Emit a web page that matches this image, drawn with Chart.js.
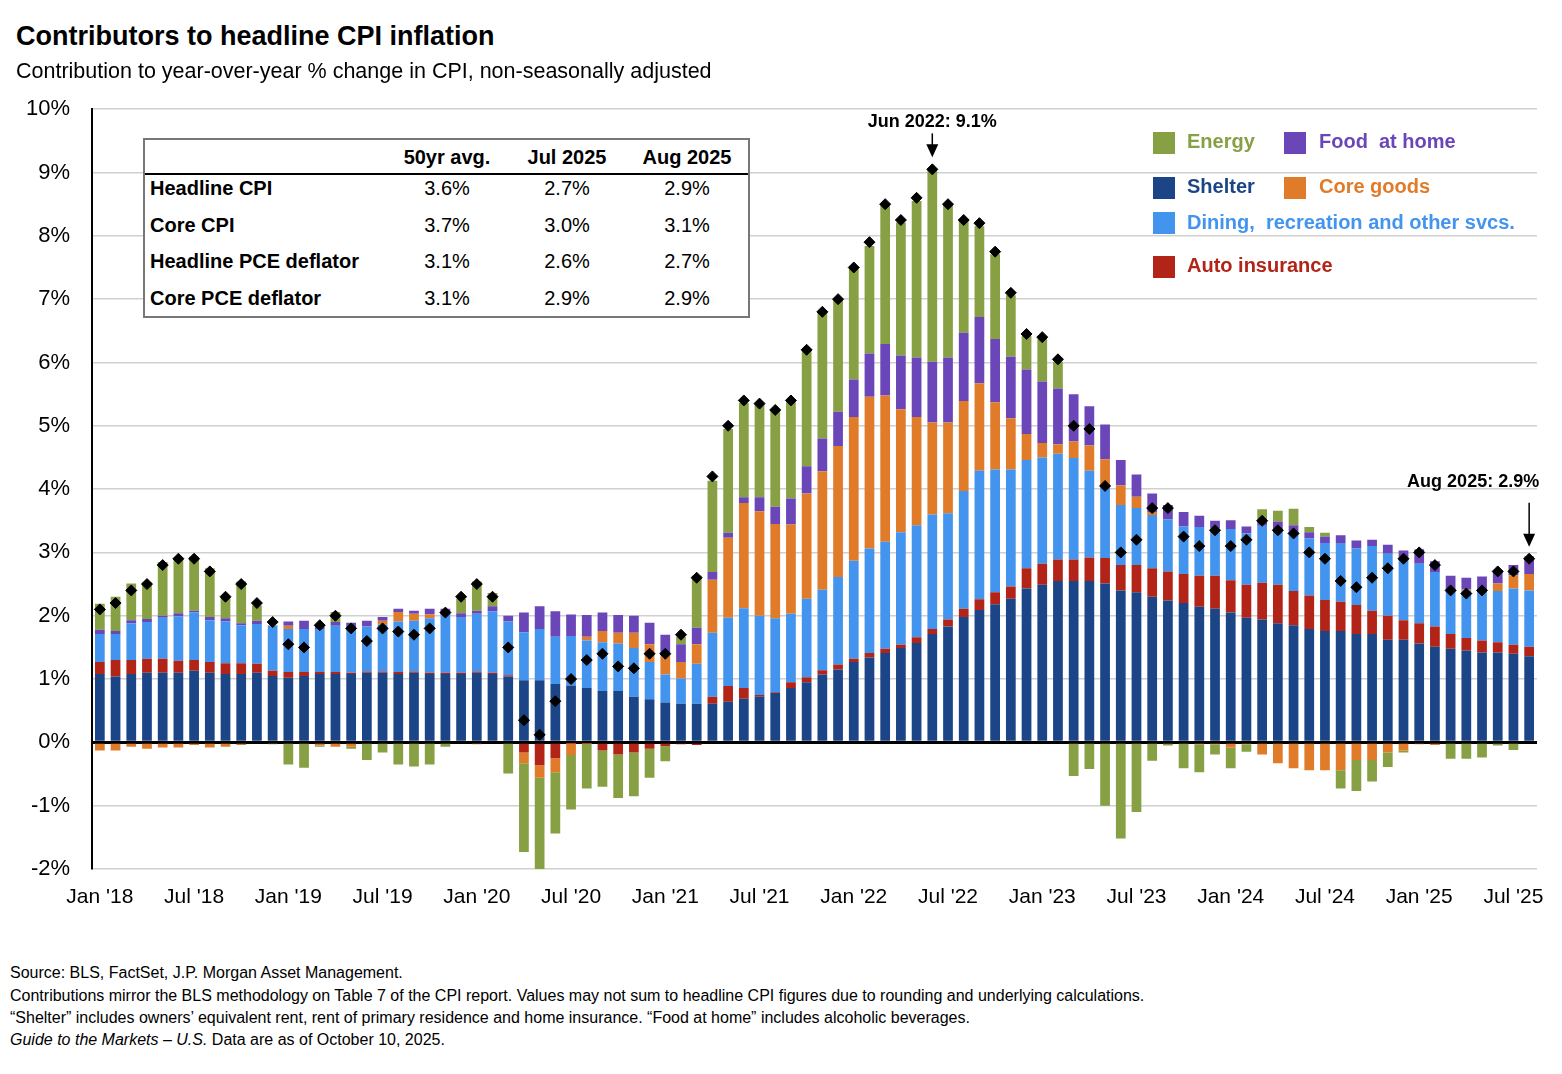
<!DOCTYPE html>
<html><head><meta charset="utf-8">
<script src="https://cdn.jsdelivr.net/npm/chart.js@4"></script>
<style>
body{margin:0;width:1562px;height:1074px;background:#fff;font-family:"Liberation Sans",Arial,sans-serif;position:relative;overflow:hidden}
.abs{position:absolute}
#title{left:16px;top:21px;font-size:27px;font-weight:bold;color:#000}
#sub{left:16px;top:59px;font-size:21.5px;color:#000}
#wrap{left:0;top:74px;width:1562px;height:856px}
#tbl{left:143px;top:138px;width:603px;height:176px;border:2px solid #777;font-size:20px;background:#fff}
.c{position:absolute;text-align:center;width:120px}
.lg{position:absolute;font-size:20px;font-weight:bold}
.sq{position:absolute;width:22px;height:22px}
.fn{left:10px;font-size:16px;color:#000}
</style></head><body>
<div id="wrap" class="abs"><canvas id="c" width="1562" height="856"></canvas></div>
<div id="title" class="abs">Contributors to headline CPI inflation</div>
<div id="sub" class="abs">Contribution to year-over-year % change in CPI, non-seasonally adjusted</div>
<div id="tbl" class="abs">
 <div class="c" style="left:242px;top:6px;font-weight:bold">50yr avg.</div>
 <div class="c" style="left:362px;top:6px;font-weight:bold">Jul 2025</div>
 <div class="c" style="left:482px;top:6px;font-weight:bold">Aug 2025</div>
 <div style="position:absolute;left:0;right:0;top:33px;border-top:2px solid #000"></div>
 <div id="rows"></div>
</div>
<div class="sq" style="left:1153px;top:132px;background:#87A043"></div><div class="lg" style="left:1187px;top:130px;color:#87A043">Energy</div>
<div class="sq" style="left:1284px;top:132px;background:#6B46B8"></div><div class="lg" style="left:1319px;top:130px;color:#6B46B8">Food &nbsp;at home</div>
<div class="sq" style="left:1153px;top:177px;background:#1B4587"></div><div class="lg" style="left:1187px;top:175px;color:#1B4587">Shelter</div>
<div class="sq" style="left:1284px;top:177px;background:#E07B2A"></div><div class="lg" style="left:1319px;top:175px;color:#E07B2A">Core goods</div>
<div class="sq" style="left:1153px;top:212px;background:#4394EE"></div><div class="lg" style="left:1187px;top:211px;color:#4394EE">Dining, &nbsp;recreation and other svcs.</div>
<div class="sq" style="left:1153px;top:256px;background:#B22418"></div><div class="lg" style="left:1187px;top:254px;color:#B22418">Auto insurance</div>
<div class="abs fn" style="top:964px">Source: BLS, FactSet, J.P. Morgan Asset Management.</div>
<div class="abs fn" style="top:987px">Contributions mirror the BLS methodology on Table 7 of the CPI report. Values may not sum to headline CPI figures due to rounding and underlying calculations.</div>
<div class="abs fn" style="top:1009px">“Shelter” includes owners’ equivalent rent, rent of primary residence and home insurance. “Food at home” includes alcoholic beverages.</div>
<div class="abs fn" style="top:1031px"><i>Guide to the Markets – U.S.</i> Data are as of October 10, 2025.</div>
<script>
const tableRows=[["Headline CPI","3.6%","2.7%","2.9%"],["Core CPI","3.7%","3.0%","3.1%"],["Headline PCE deflator","3.1%","2.6%","2.7%"],["Core PCE deflator","3.1%","2.9%","2.9%"]];
const yTicks=[-2,-1,0,1,2,3,4,5,6,7,8,9,10];
const months=[];
for(let y=2018;y<=2025;y++){for(let m=0;m<12;m++){if(y===2025&&m>7)break;months.push(["Jan","Feb","Mar","Apr","May","Jun","Jul","Aug","Sep","Oct","Nov","Dec"][m]+" '"+String(y).slice(2));}}
const shelter=[1.08,1.04,1.08,1.1,1.1,1.1,1.13,1.1,1.08,1.08,1.1,1.05,
1.02,1.05,1.08,1.08,1.08,1.1,1.1,1.08,1.1,1.08,1.08,1.08,
1.1,1.08,1.04,0.98,0.98,0.92,0.9,0.86,0.81,0.81,0.72,0.68,
0.63,0.61,0.61,0.61,0.64,0.69,0.72,0.78,0.86,0.95,1.07,1.15,
1.27,1.34,1.41,1.49,1.57,1.71,1.83,1.98,2.09,2.18,2.27,2.43,
2.49,2.55,2.55,2.55,2.51,2.4,2.37,2.3,2.24,2.2,2.14,2.11,
2.05,1.97,1.94,1.88,1.85,1.79,1.76,1.76,1.71,1.71,1.62,1.62,
1.56,1.51,1.48,1.45,1.42,1.42,1.4,1.36];
const autoIns=[.19,.26,.22,.22,.22,.19,.17,.17,.17,.17,.14,.08,
.09,.06,.03,.03,.02,.02,.02,.03,.02,.02,.02,.02,
.02,.02,.02,-.16,-.36,-.25,-.01,-.01,-.13,-.19,-.16,-.1,
-.06,-.03,-.04,.11,.25,.17,.03,.01,.09,.08,.07,.08,
.05,.07,.07,.05,.09,.08,.11,.13,.17,.19,.19,.32,
.33,.34,.34,.37,.40,.40,.43,.45,.46,.46,.49,.52,
.51,.52,.58,.61,.54,.53,.49,.46,.46,.37,.38,.31,
.32,.32,.23,.2,.19,.16,.14,.15];
const dining=[.44,.41,.58,.58,.65,.7,.75,.66,.66,.6,.63,.71,
.68,.68,.68,.73,.71,.71,.74,.8,.8,.86,.91,.88,
.91,.97,.85,.76,.81,.75,.78,.75,.77,.75,.77,.59,
.44,.40,.63,1.01,1.08,1.26,1.25,1.17,1.08,1.24,1.27,1.38,
1.55,1.65,1.69,1.78,1.77,1.81,1.68,1.86,2.03,1.94,1.85,1.71,
1.68,1.67,1.60,1.37,1.11,.95,.90,.84,.82,.75,.77,.75,
.81,.81,.9,.87,.94,.9,.9,.93,.89,1.02,.98,.94,
.94,.86,.71,.75,.79,.81,.89,.89];
const coreGoods=[-.13,-.13,-.07,-.1,-.08,-.08,-.04,-.08,-.07,-.04,-.02,.01,
.05,-.02,-.05,-.07,-.07,-.02,.06,.15,.11,.06,0,-.02,
-.03,-.02,-.02,-.17,-.2,-.22,-.19,.06,.18,.17,.24,.28,
.34,.26,.31,.84,1.26,1.66,1.65,1.49,1.41,1.66,1.87,2.07,
2.27,2.40,2.31,1.94,1.71,1.45,1.43,1.42,1.38,1.06,.81,.41,
.23,.15,.26,.40,.45,.31,.18,.05,0,-.02,-.03,-.03,
-.08,-.03,-.19,-.33,-.41,-.44,-.44,-.44,-.28,-.28,-.16,-.13,
-.03,-.04,0,.02,.02,.12,.21,.26];
const foodHome=[.07,.05,.05,.05,.03,.05,.03,.05,.05,.03,.05,0,
.07,.13,.04,.06,.08,.09,.06,.05,.05,.09,.1,.06,
.05,.08,.09,.31,.36,.40,.34,.34,.29,.28,.27,.34,
.29,.28,.26,.12,.08,.09,.22,.27,.41,.43,.52,.54,
.59,.68,.81,.85,.94,.96,1.03,1.08,1.05,1.0,.97,1.02,
.97,.88,.75,.62,.55,.40,.35,.29,.23,.23,.18,.12,
.14,.11,.1,.13,.1,.1,.1,.12,.13,.1,.14,.16,
.23,.17,.21,.18,.2,.21,.16,.24];
const energy=[.41,.54,.58,.58,.85,.88,.85,.77,.33,.66,.24,-.03,
-.35,-.38,-.02,.16,-.03,-.26,-.16,-.35,-.38,-.35,-.07,.23,
.46,.21,-.47,-1.4,-1.45,-.97,-.86,-.72,-.57,-.69,-.69,-.46,
-.24,.12,.82,1.44,1.64,1.49,1.47,1.52,1.52,1.84,2.0,1.78,
1.77,1.7,2.2,2.1,2.47,3.05,2.42,1.77,1.43,1.34,.97,.53,
.67,.42,-.53,-.42,-1.0,-1.52,-1.1,-.29,-.05,-.39,-.44,-.16,
-.33,-.12,.16,.17,.26,.08,.06,-.29,-.49,-.34,-.23,-.03,
0,0,-.26,-.26,-.24,-.05,-.12,.04];
const headline=[2.1,2.2,2.4,2.5,2.8,2.9,2.9,2.7,2.3,2.5,2.2,1.9,
1.55,1.5,1.85,2.0,1.8,1.6,1.8,1.75,1.7,1.8,2.05,2.3,
2.5,2.3,1.5,0.35,0.12,0.65,1.0,1.3,1.4,1.2,1.17,1.4,
1.4,1.7,2.6,4.2,5.0,5.4,5.35,5.25,5.4,6.2,6.8,7.0,
7.5,7.9,8.5,8.25,8.6,9.05,8.5,8.25,8.2,7.75,7.1,6.45,
6.4,6.05,5.0,4.95,4.05,3.0,3.2,3.7,3.7,3.25,3.1,3.35,
3.1,3.2,3.5,3.35,3.3,3.0,2.9,2.55,2.45,2.6,2.75,2.9,
3.0,2.8,2.4,2.35,2.4,2.7,2.7,2.9];
const annotations=[{index:53,text:"Jun 2022: 9.1%"},{index:91,text:"Aug 2025: 2.9%"}];

const rows=document.getElementById('rows');
tableRows.forEach((r,i)=>{const t=37+i*36.5;
 rows.insertAdjacentHTML('beforeend',`<div style="position:absolute;left:5px;top:${t}px;font-weight:bold">${r[0]}</div>`+
 `<div class="c" style="left:242px;top:${t}px">${r[1]}</div><div class="c" style="left:362px;top:${t}px">${r[2]}</div><div class="c" style="left:482px;top:${t}px">${r[3]}</div>`);});

const ds=(label,data,color)=>({type:'bar',label,data,backgroundColor:color,stack:'s',categoryPercentage:1,barPercentage:0.62,order:2});
const annot={id:'annot',afterDatasetsDraw(ch){const c=ch.ctx,x=ch.scales.x,y=ch.scales.y;
 c.save();c.fillStyle='#000';c.strokeStyle='#000';c.font='bold 18px "Liberation Sans", Arial';c.textAlign='center';
 annotations.forEach((a,k)=>{const px=x.getPixelForValue(a.index);const py=y.getPixelForValue(headline[a.index]);
  const tx=k===0?px:px-56; c.fillText(a.text,tx,py-(k===0?42:72));
  const y0=py-(k===0?36:56),y1=py-12;c.lineWidth=1.5;c.beginPath();c.moveTo(px,y0);c.lineTo(px,y1-6);c.stroke();
  c.beginPath();c.moveTo(px,y1);c.lineTo(px-6,y1-13);c.lineTo(px+6,y1-13);c.closePath();c.fill();});
 c.restore();}};
new Chart(document.getElementById('c'),{
 data:{labels:months,datasets:[
  ds('Shelter',shelter,'#1B4587'),ds('Auto insurance',autoIns,'#B22418'),ds('Dining, recreation and other svcs.',dining,'#4394EE'),
  ds('Core goods',coreGoods,'#E07B2A'),ds('Food at home',foodHome,'#6B46B8'),ds('Energy',energy,'#87A043'),
  {type:'line',label:'Headline',data:headline,stack:'h',showLine:false,pointStyle:'rectRot',pointRadius:5.5,pointBackgroundColor:'#000',pointBorderColor:'#000',order:1}
 ]},
 options:{responsive:false,animation:false,devicePixelRatio:1,
  layout:{padding:{left:0,right:25,top:2,bottom:0}},
  plugins:{legend:{display:false},tooltip:{enabled:false}},
  scales:{
   x:{stacked:true,grid:{display:false},border:{display:false},
      afterFit(s){s.height=61;},
      ticks:{autoSkip:false,maxRotation:0,color:'#000',font:{size:21,family:'"Liberation Sans", Arial'},padding:8,
       callback(v,i){return (i%6===0)?months[i]:null;}}},
   y:{stacked:true,min:-2,max:10,afterFit(s){s.width=92;},
      afterBuildTicks(s){s.ticks=yTicks.map(v=>({value:v}));},
      border:{display:true,color:'#000',width:2},
      grid:{color:c=>c.tick&&c.tick.value===0?'#000':'#d0d0d0',lineWidth:c=>c.tick&&c.tick.value===0?3:1.5,drawTicks:false},
      ticks:{color:'#000',padding:22,font:{size:22,family:'"Liberation Sans", Arial'},callback:v=>v+'%'}}
  }},
 plugins:[annot]});
</script></body></html>
